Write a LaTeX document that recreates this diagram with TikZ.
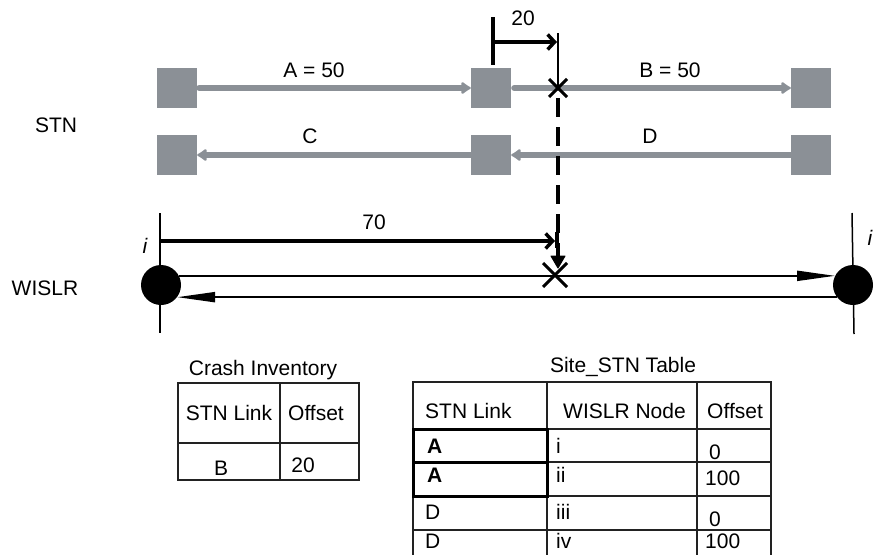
\documentclass[tikz,border=0pt]{standalone}
\usepackage{fontspec}
\setmainfont{Liberation Sans}
\usetikzlibrary{arrows.meta}
\definecolor{stngray}{HTML}{8B9096}
\definecolor{tabline}{HTML}{222222}
\begin{document}
\begin{tikzpicture}[x=1pt,y=-1pt,
  every node/.style={font=\fontsize{21}{25}\selectfont,inner sep=0pt},
  lbl/.style={anchor=base},
  lbll/.style={anchor=base west},
  stnbox/.style={draw=none,fill=stngray,minimum size=40pt,inner sep=0pt},
  garrow/.style={draw=stngray,line width=6pt,line cap=round,-{Latex[length=11pt,width=15pt,round]}},
  dimline/.style={draw=black,line width=3.5pt,-{Straight Barb[length=7pt,width=15pt,line width=3.5pt]}},
  ticks/.style={draw=black,line width=3.2pt},
  crossmark/.style={draw=black,line width=3pt},
  wisnode/.style={circle,fill=black,minimum size=40pt,inner sep=0pt},
  wline/.style={draw=black,line width=2pt,-{Triangle[length=38pt,width=10pt]}},
  tab/.style={draw=tabline,line width=1.3pt},
  tabthick/.style={draw=black,line width=3pt}]
\useasboundingbox (0,0) rectangle (874,554);

% ---------- STN links ----------
\node[stnbox] (s1) at (177,88) {};
\node[stnbox] (s2) at (491,88) {};
\node[stnbox] (s3) at (811,88) {};
\node[stnbox] (s4) at (177,155) {};
\node[stnbox] (s5) at (491,155) {};
\node[stnbox] (s6) at (811,155) {};

\draw[garrow,shorten <=2pt] (s1.east) -- (s2.west);
\draw[garrow,shorten <=3pt] (s2.east) -- (s3.west);
\draw[garrow] (s5.west) -- (s4.east);
\draw[garrow] (s6.west) -- (s5.east);

\node[lbl] (lA) at (314,77) {A = 50};
\node[lbl] (lB) at (670,77) {B = 50};
\node[lbl] (lC) at (310,143) {C};
\node[lbl] (lD) at (650,143) {D};
\node[lbl] (tSTN) at (56,132) {STN};

% crash location on link B and its offset
\coordinate (x1) at (558,88);
\coordinate (d20a) at (493,42);
\coordinate (d20b) at (557,42);
\draw[ticks] (493,17) -- (493,65);
\draw[draw=black,line width=2.6pt] (558,33) -- (x1);
\draw[dimline] (d20a) -- (d20b);
\node[lbl] (l20) at (523,25) {20};
\draw[crossmark] (549,79) -- (567,97);
\draw[crossmark] (567,79) -- (549,97);

% projection onto the WISLR segment
\coordinate (x2) at (555,275);
\draw[draw=black,line width=4pt,dash pattern=on 19pt off 10pt]
  (558,98) -- (558,256);
\draw[fill=black,draw=black,line width=1pt,line join=round]
  (551,256) -- (565,256) -- (558,268) -- cycle;
\draw[crossmark] (543,263) -- (567,287);
\draw[crossmark] (567,263) -- (543,287);

% ---------- WISLR ----------
\node[wisnode] (ci) at (161,285) {};
\node[wisnode] (cii) at (853,285) {};
\draw[draw=black,line width=1.5pt] (160,213) -- (160,333);
\draw[draw=black,line width=1.5pt] (852,213) -- (854,334);
\draw[wline] (ci.27) -- (cii.153);
\draw[wline] (cii.-143) -- (ci.-37);

\coordinate (d70a) at (160,241);
\coordinate (d70b) at (555,241);
\draw[dimline] (d70a) -- (d70b);
\draw[ticks] (557,232) -- (557,248);
\node[lbl] (l70) at (374,229) {70};
\node[lbl] (li1) at (145,253) {\itshape i};
\node[lbl] (li2) at (870,245) {\itshape i};
\node[lbl] (tWISLR) at (45,295) {WISLR};

% ---------- Crash Inventory table ----------
\node[lbl] (crt) at (263,375) {Crash Inventory};
\draw[tab] (178,383) rectangle (359,480);
\draw[tab] (178,443) -- (359,443);
\draw[tab] (280,383) -- (280,480);
\node[lbl] (ch1) at (229,420) {STN Link};
\node[lbl] (ch2) at (316,420) {Offset};
\node[lbl] (cr1) at (221,475) {B};
\node[lbl] (cr2) at (303,472) {20};

% ---------- Site_STN table ----------
\node[lbl] (sst) at (623,372) {Site\_STN Table};
\draw[tab] (413,560) -- (413,382) -- (771,382) -- (771,560);
\draw[tab] (547,382) -- (547,560);
\draw[tab] (697,382) -- (697,560);
\foreach \yy in {429,462,496,530} \draw[tab] (413,\yy) -- (771,\yy);
\draw[tabthick] (413,429) rectangle (547,496);
\draw[tabthick] (413,462) -- (547,462);

\node[lbll] (sh1) at (425,418) {STN Link};
\node[lbll] (sh2) at (563,418) {WISLR Node};
\node[lbll] (sh3) at (707,418) {Offset};

\node[lbll] (r1a) at (427,453) {\bfseries A};
\node[lbll] (r1b) at (556,453) {i};
\node[lbll] (r1c) at (709,459) {0};
\node[lbll] (r2a) at (427,482) {\bfseries A};
\node[lbll] (r2b) at (556,482) {ii};
\node[lbll] (r2c) at (705,485) {100};
\node[lbll] (r3a) at (425,519) {D};
\node[lbll] (r3b) at (556,519) {iii};
\node[lbll] (r3c) at (709,526) {0};
\node[lbll] (r4a) at (425,548) {D};
\node[lbll] (r4b) at (556,548) {iv};
\node[lbll] (r4c) at (705,548) {100};
\end{tikzpicture}
\end{document}
